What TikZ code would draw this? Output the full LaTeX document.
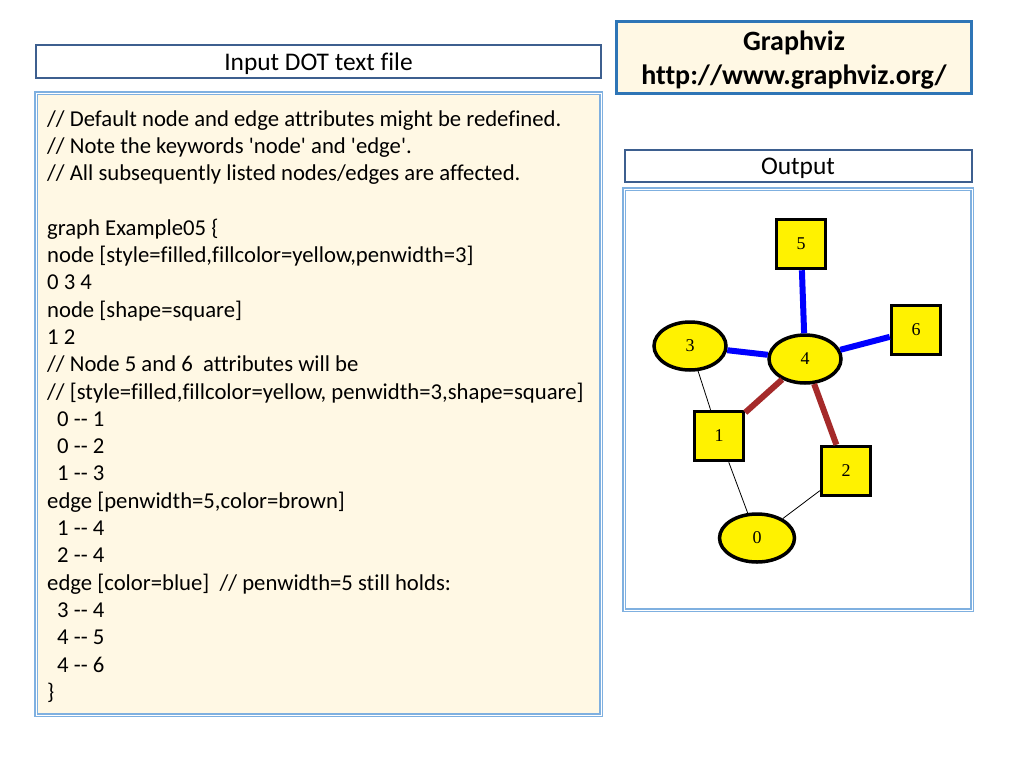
\documentclass[tikz,border=0pt]{standalone}
\usepackage{fontspec}
\setmainfont{Carlito}[Ligatures={TeXOff,CommonOff}]
\newfontfamily\gvfont{Liberation Serif}
\usepackage{tikz}
\usetikzlibrary{positioning}
\usetikzlibrary{shapes,shapes.geometric}
\definecolor{cream}{HTML}{FFF8E4}
\definecolor{slate}{HTML}{3D5F8F}
\definecolor{lightframe}{HTML}{7FB0E0}
\definecolor{gvblue}{HTML}{2E75B6}
\definecolor{gvbrown}{HTML}{A52A2A}
\tikzstyle{headbox} = [draw=slate, line width=2pt, fill=white, text centered, text depth=0pt]
\tikzstyle{panel} = [draw=lightframe, line width=1.2pt, double=white, double distance=1pt]
\tikzstyle{codeline} = [anchor=base west, inner sep=0pt, font=\fontsize{22.7}{26}\selectfont]
\tikzstyle{gvellipse} = [ellipse, draw, line width=3.5pt, fill=yellow, minimum width=72pt, minimum height=48pt, inner sep=0pt, font=\gvfont\fontsize{18}{20}\selectfont]
\tikzstyle{gvsquare} = [rectangle, draw, line width=3.5pt, fill=yellow, minimum size=49pt, inner sep=0pt, font=\gvfont\fontsize{18}{20}\selectfont]
\tikzstyle{plain} = [draw, line width=0.8pt]
\tikzstyle{redge} = [draw=gvbrown, line width=6pt]
\tikzstyle{bedge} = [draw=blue, line width=6pt]

\begin{document}
\begin{tikzpicture}[x=1pt, y=-1pt]
	\useasboundingbox (0,0) rectangle (1024,768);

	% header boxes
	\node [headbox, minimum width=565pt, minimum height=33pt, font=\fontsize{25.4}{28}\selectfont] (Input) at (318.5,61.5) {Input DOT text file};
	\node [draw=gvblue, line width=2.5pt, fill=cream, minimum width=355pt, minimum height=72pt, align=center, text depth=0pt, font=\bfseries\fontsize{28}{34}\selectfont] (Graphviz) at (794,57.5) {Graphviz\\http://www.graphviz.org/};
	\node [headbox, minimum width=347pt, minimum height=32pt, font=\fontsize{25.4}{28}\selectfont] (Output) at (798,166) {Output};

	% panels
	\path [panel, fill=cream] (36,93) rectangle (601,715);
	\path [panel, fill=white] (624,189) rectangle (972,610);

	% DOT source text
	\foreach \txt [count=\i from 0] in {
		{// Default node and edge attributes might be redefined.},
		{// Note the keywords 'node' and 'edge'.},
		{// All subsequently listed nodes/edges are affected.},
		{},
		{graph Example05 \{},
		{node [style=filled,fillcolor=yellow,penwidth=3]},
		{0 3 4},
		{node [shape=square]},
		{1 2},
		{// Node 5 and 6\ \ attributes will be},
		{// [style=filled,fillcolor=yellow, penwidth=3,shape=square]},
		{\hspace*{10pt}0 -- 1},
		{\hspace*{10pt}0 -- 2},
		{\hspace*{10pt}1 -- 3},
		{edge [penwidth=5,color=brown]},
		{\hspace*{10pt}1 -- 4},
		{\hspace*{10pt}2 -- 4},
		{edge [color=blue]\ \ // penwidth=5 still holds:},
		{\hspace*{10pt}3 -- 4},
		{\hspace*{10pt}4 -- 5},
		{\hspace*{10pt}4 -- 6},
		{\}}}
		\node [codeline] (L\i) at (47,{126+27.3*\i}) {\txt};

	% place graph nodes
	\node [gvsquare]  (G5) at (801,244) {5};
	\node [gvsquare]  (G6) at (916,330) {6};
	\node [gvellipse] (G3) at (690,346) {3};
	\node [gvellipse] (G4) at (805,359) {4};
	\node [gvsquare]  (G1) at (719,436) {1};
	\node [gvsquare]  (G2) at (846,471) {2};
	\node [gvellipse, minimum width=75pt] (G0) at (757,538) {0};

	% draw edges
	\path [plain] (G0) -- (G1);
	\path [plain] (G0) -- (G2);
	\path [plain] (G1) -- (G3);
	\path [redge] (G1) -- (G4);
	\path [redge] (G2) -- (G4);
	\path [bedge] (G3) -- (G4);
	\path [bedge] (G4) -- (G5);
	\path [bedge] (G4) -- (G6);
\end{tikzpicture}
\end{document}
